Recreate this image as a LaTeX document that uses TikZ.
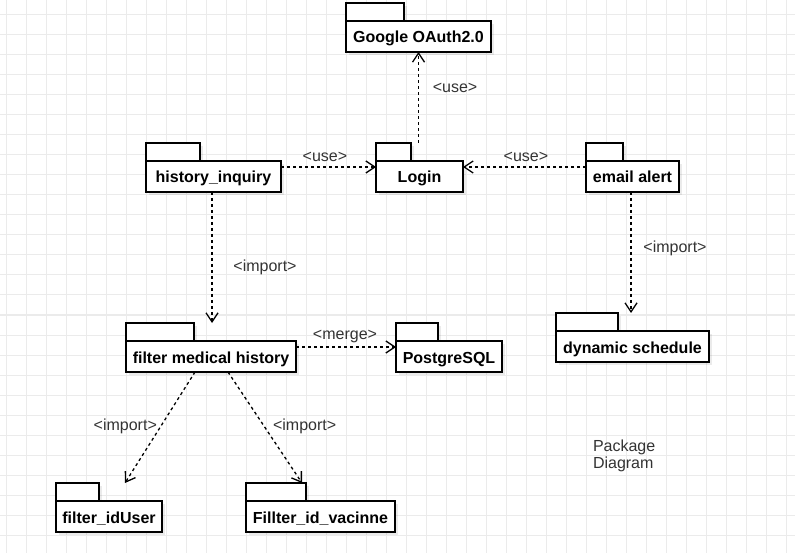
\documentclass[tikz,border=0pt]{standalone}
\usepackage{fontspec}
\setmainfont{Liberation Sans}
\usetikzlibrary{arrows.meta}
\pgfdeclarelayer{bg}
\pgfsetlayers{bg,main}

\begin{document}
\begin{tikzpicture}[x=1pt, y=-1pt,
		every node/.style={font=\fontsize{16}{17}\selectfont, outer sep=0pt},
		pkg/.style={draw, fill=white, line width=1.2pt, inner sep=0pt, minimum height=31pt, text height=13pt, text depth=0pt, font=\fontsize{16}{17}\selectfont\bfseries},
		pkgtab/.style={draw, fill=white, line width=1.2pt, inner sep=0pt, minimum height=18pt, anchor=south west},
		dep/.style={dash pattern=on 3pt off 3pt, line width=1.3pt, -{Straight Barb[length=9pt, width=12pt]}},
		lbl/.style={inner sep=0pt, text height=9pt, text depth=0pt, text=black!80},
		gridline/.style={black!8, line width=1pt},
		pkgshadow/.style={fill=black, opacity=0.08}]

	\useasboundingbox (0,0) rectangle (795,553);

	% Packages
	\node[pkg, minimum width=145pt] (google) at (418.5,36.5) {Google OAuth2.0};
	\node[pkgtab, minimum width=58pt] (google-tab) at (google.north west) {};
	\node[pkg, minimum width=135pt] (history) at (213.5,176.5) {history\_inquiry};
	\node[pkgtab, minimum width=54pt] (history-tab) at (history.north west) {};
	\node[pkg, minimum width=87pt] (login) at (419.5,176.5) {Login};
	\node[pkgtab, minimum width=35pt] (login-tab) at (login.north west) {};
	\node[pkg, minimum width=93pt] (email) at (632.5,176.5) {email alert};
	\node[pkgtab, minimum width=37pt] (email-tab) at (email.north west) {};
	\node[pkg, minimum width=153pt] (schedule) at (632.5,346.5) {dynamic schedule};
	\node[pkgtab, minimum width=62pt] (schedule-tab) at (schedule.north west) {};
	\node[pkg, minimum width=170pt] (filter) at (211,356.5) {filter medical history};
	\node[pkgtab, minimum width=68pt] (filter-tab) at (filter.north west) {};
	\node[pkg, minimum width=106pt] (postgres) at (449,356.5) {PostgreSQL};
	\node[pkgtab, minimum width=42pt] (postgres-tab) at (postgres.north west) {};
	\node[pkg, minimum width=106pt] (iduser) at (109,516.5) {filter\_idUser};
	\node[pkgtab, minimum width=43pt] (iduser-tab) at (iduser.north west) {};
	\node[pkg, minimum width=149pt] (vacinne) at (320.5,516.5) {Fillter\_id\_vacinne};
	\node[pkgtab, minimum width=60pt] (vacinne-tab) at (vacinne.north west) {};

	% Dependencies
	\draw[dep] (login-tab.north -| google.south) -- (google.south)
		node[lbl, pos=0.6, xshift=36.5pt] (use-google) {<use>};
	\draw[dep] ([yshift=9.5pt]history.east) -- ([yshift=9.5pt]login.west)
		node[lbl, pos=0.463, yshift=10pt] (use-history) {<use>};
	\draw[dep] ([yshift=9.5pt]email.west) -- ([yshift=9.5pt]login.east)
		node[lbl, pos=0.488, yshift=10pt] (use-email) {<use>};
	\draw[dep] ([xshift=-1.5pt]history.south) -- ([xshift=1pt, yshift=18pt]filter.north)
		node[lbl, pos=0.573, xshift=53pt] (import-history) {<import>};
	\draw[dep] ([xshift=-1.5pt]email.south) -- ([xshift=-1.5pt, yshift=18pt]schedule.north)
		node[lbl, pos=0.46, xshift=44pt] (import-email) {<import>};
	\draw[dep] ([yshift=9.5pt]filter.east) -- ([yshift=9.5pt]postgres.west)
		node[lbl, pos=0.49, yshift=12pt] (merge-filter) {<merge>};
	\draw[dep] ([xshift=-16pt]filter.south) -- ([xshift=16pt, yshift=18pt]iduser.north)
		node[lbl, pos=0.49, xshift=-35.4pt] (import-iduser) {<import>};
	\draw[dep] ([xshift=17pt]filter.south) -- ([xshift=-18.5pt, yshift=18pt]vacinne.north)
		node[lbl, pos=0.49, xshift=40.4pt] (import-vacinne) {<import>};

	% Caption
	\node[anchor=west, align=left, inner sep=0pt, text=black!80] (caption) at (593,455.5) {Package\\Diagram};

	\begin{pgfonlayer}{bg}
		% Grid
		\fill[white] (0,0) rectangle (795,553);
		\foreach \gx in {6,26,...,786}
			\draw[gridline] (\gx,0) -- (\gx,553);
		\foreach \gy in {15,35,...,535}
			\draw[gridline] (0,\gy) -- (795,\gy);

		% Shadows
		\foreach \p in {google,history,login,email,schedule,filter,postgres,iduser,vacinne} {
			\fill[pkgshadow] ([shift={(3pt,-3pt)}]\p.north west) rectangle ([shift={(3pt,-3pt)}]\p.south east);
			\fill[pkgshadow] ([shift={(3pt,-3pt)}]\p-tab.north west) rectangle ([shift={(3pt,-3pt)}]\p-tab.south east);
		}
	\end{pgfonlayer}
\end{tikzpicture}
\end{document}
